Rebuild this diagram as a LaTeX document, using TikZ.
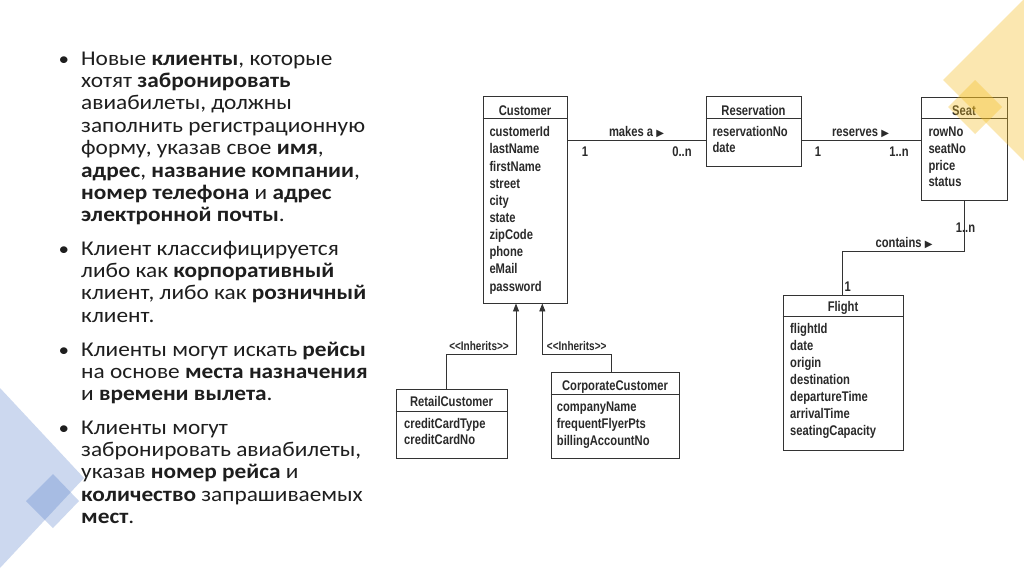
\documentclass[tikz,border=0pt]{standalone}
\usepackage{fontspec}
\setmainfont{Carlito}[FakeStretch=1.11]
\newfontfamily\umlfont[FakeStretch=0.8]{Liberation Sans Bold}
\newfontfamily\symfont{DejaVu Sans}
\usetikzlibrary{arrows.meta}
\definecolor{decoY}{HTML}{F5BD1F}
\definecolor{decoB}{HTML}{4472C4}
\definecolor{ink}{HTML}{1E1E1E}
\definecolor{umlink}{HTML}{2A2A2A}
\definecolor{umlline}{HTML}{333333}
\newcommand{\tri}{{\symfont\fontsize{10}{10}\selectfont ▶}}
\begin{document}
\begin{tikzpicture}[x=1pt,y=-1pt,
  txt/.style={anchor=base west, inner sep=0pt, font=\fontsize{21}{22.4}\selectfont, text=ink},
  bul/.style={anchor=base, inner sep=0pt, font=\fontsize{19}{22.4}\selectfont, text=ink},
  box/.style={draw=umlline, line width=0.9pt, inner sep=0pt},
  divl/.style={draw=umlline, line width=0.9pt},
  conn/.style={draw=umlline, line width=0.9pt},
  inh/.style={draw=umlline, line width=0.9pt, -{Triangle[width=6pt,length=8pt]}},
  ctitle/.style={anchor=base, font=\umlfont\fontsize{14}{16}\selectfont, text=umlink, inner sep=0pt},
  attr/.style={anchor=base west, font=\umlfont\fontsize{14}{16}\selectfont, text=umlink, inner sep=0pt},
  lab/.style={anchor=base, font=\umlfont\fontsize{14}{16}\selectfont, text=umlink, inner sep=0pt},
  slab/.style={anchor=base, font=\umlfont\fontsize{12.5}{14}\selectfont, text=umlink, inner sep=0pt}
]
\useasboundingbox (0,0) rectangle (1024,574);
\fill[white] (0,0) rectangle (1024,574);

% blue decoration (bottom left)
\fill[decoB, opacity=0.27] (0,388) -- (84,478) -- (0,568) -- cycle;
\fill[decoB, opacity=0.27] (53,474) -- (79,501) -- (53,528) -- (26,501) -- cycle;

% ---------- left text ----------
\node[bul] (b1) at (64,65) {•};
\node[txt] (l1) at (81,65) {Новые \textbf{клиенты}, которые};
\node[txt] (l2) at (81,87.4) {хотят \textbf{забронировать}};
\node[txt] (l3) at (81,109.8) {авиабилеты, должны};
\node[txt] (l4) at (81,132.2) {заполнить регистрационную};
\node[txt] (l5) at (81,154.6) {форму, указав свое \textbf{имя},};
\node[txt] (l6) at (81,177) {\textbf{адрес}, \textbf{название компании},};
\node[txt] (l7) at (81,199.4) {\textbf{номер телефона} и \textbf{адрес}};
\node[txt] (l8) at (81,221.8) {\textbf{электронной почты}.};

\node[bul] (b2) at (64,255) {•};
\node[txt] (l9) at (81,255) {Клиент классифицируется};
\node[txt] (l10) at (81,277.4) {либо как \textbf{корпоративный}};
\node[txt] (l11) at (81,299.8) {клиент, либо как \textbf{розничный}};
\node[txt] (l12) at (81,322.2) {клиент.};

\node[bul] (b3) at (64,356) {•};
\node[txt] (l13) at (81,356) {Клиенты могут искать \textbf{рейсы}};
\node[txt] (l14) at (81,378.4) {на основе \textbf{места назначения}};
\node[txt] (l15) at (81,400.8) {и \textbf{времени вылета}.};

\node[bul] (b4) at (64,434) {•};
\node[txt] (l16) at (81,434) {Клиенты могут};
\node[txt] (l17) at (81,456.4) {забронировать авиабилеты,};
\node[txt] (l18) at (81,478.8) {указав \textbf{номер рейса} и};
\node[txt] (l19) at (81,501.2) {\textbf{количество} запрашиваемых};
\node[txt] (l20) at (81,523.6) {\textbf{мест}.};

% ---------- UML ----------
% Customer
\node[box, minimum width=84, minimum height=207] (cust) at (525,199.5) {};
\draw[divl] (cust.west |- 0,118) -- (cust.east |- 0,118);
\node[ctitle] (custT) at (525,115) {Customer};
\node[attr] (c1) at (489.3,136.7) {customerId};
\node[attr] (c2) at (489.3,153.85) {lastName};
\node[attr] (c3) at (489.3,171) {firstName};
\node[attr] (c4) at (489.3,188.15) {street};
\node[attr] (c5) at (489.3,205.3) {city};
\node[attr] (c6) at (489.3,222.45) {state};
\node[attr] (c7) at (489.3,239.6) {zipCode};
\node[attr] (c8) at (489.3,256.75) {phone};
\node[attr] (c9) at (489.3,273.9) {eMail};
\node[attr] (c10) at (489.3,291.05) {password};

% Reservation
\node[box, minimum width=95, minimum height=70] (res) at (753.5,131) {};
\draw[divl] (res.west |- 0,118) -- (res.east |- 0,118);
\node[ctitle] (resT) at (753.5,115) {Reservation};
\node[attr] (r1) at (712.3,136.7) {reservationNo};
\node[attr] (r2) at (712.3,152.9) {date};

% Seat
\node[box, minimum width=86, minimum height=103] (seat) at (964,148.5) {};
\draw[divl] (seat.west |- 0,118) -- (seat.east |- 0,118);
\node[ctitle] (seatT) at (964,115) {Seat};
\node[attr] (s1) at (928.3,136.7) {rowNo};
\node[attr] (s2) at (928.3,153.4) {seatNo};
\node[attr] (s3) at (928.3,170.1) {price};
\node[attr] (s4) at (928.3,186.8) {status};

% Flight
\node[box, minimum width=120, minimum height=155] (fl) at (843,372.5) {};
\draw[divl] (fl.west |- 0,316) -- (fl.east |- 0,316);
\node[ctitle] (flT) at (843,311.7) {Flight};
\node[attr] (f1) at (790,333.3) {flightId};
\node[attr] (f2) at (790,350.4) {date};
\node[attr] (f3) at (790,367.5) {origin};
\node[attr] (f4) at (790,384.6) {destination};
\node[attr] (f5) at (790,401.7) {departureTime};
\node[attr] (f6) at (790,418.8) {arrivalTime};
\node[attr] (f7) at (790,435.9) {seatingCapacity};

% RetailCustomer
\node[box, minimum width=111, minimum height=69] (ret) at (451.5,423.5) {};
\draw[divl] (ret.west |- 0,411) -- (ret.east |- 0,411);
\node[ctitle] (retT) at (451.5,406.7) {RetailCustomer};
\node[attr] (rc1) at (404,428.3) {creditCardType};
\node[attr] (rc2) at (404,444.6) {creditCardNo};

% CorporateCustomer
\node[box, minimum width=128, minimum height=86] (corp) at (615,415) {};
\draw[divl] (corp.west |- 0,394) -- (corp.east |- 0,394);
\node[ctitle] (corpT) at (615,390) {CorporateCustomer};
\node[attr] (cc1) at (556.7,411.7) {companyName};
\node[attr] (cc2) at (556.7,428.4) {frequentFlyerPts};
\node[attr] (cc3) at (556.7,445.1) {billingAccountNo};

% connectors
\draw[conn] (cust.east |- 0,140.7) -- (res.west |- 0,140.7);
\node[lab] (mk) at (636.5,136.7) {makes a \tri};
\node[lab] (mk1) at (585,156) {1};
\node[lab] (mk2) at (682,156) {0..n};

\draw[conn] (res.east |- 0,140.7) -- (seat.west |- 0,140.7);
\node[lab] (rv) at (860.5,136.7) {reserves \tri};
\node[lab] (rv1) at (818,156) {1};
\node[lab] (rv2) at (899,156) {1..n};

\coordinate (cbend) at (964,251.7);
\draw[conn] (seat.south -| cbend) -- (cbend) -| (fl.north -| 842.7,0);
\node[lab] (ct) at (904,247.3) {contains \tri};
\node[lab] (ct1) at (965.5,232.7) {1..n};
\node[lab, anchor=base west] (ct2) at (844.5,291.7) {1};

\coordinate (ib1) at (446.7,354.3);
\coordinate (ib2) at (611,354.3);
\draw[inh] (ret.north -| ib1) -- (ib1) -| (cust.south -| 516,0);
\draw[inh] (corp.north -| ib2) -- (ib2) -| (cust.south -| 542.3,0);
\node[slab] (ih1) at (479,350.7) {<<Inherits>>};
\node[slab] (ih2) at (576.7,350.7) {<<Inherits>>};

% yellow decoration (top right)
\fill[decoY, opacity=0.35] (943,80) -- (1024,-1) -- (1024,161) -- cycle;
\fill[decoY, opacity=0.35] (975,80) -- (1002,107) -- (975,134) -- (948,107) -- cycle;
\end{tikzpicture}
\end{document}
